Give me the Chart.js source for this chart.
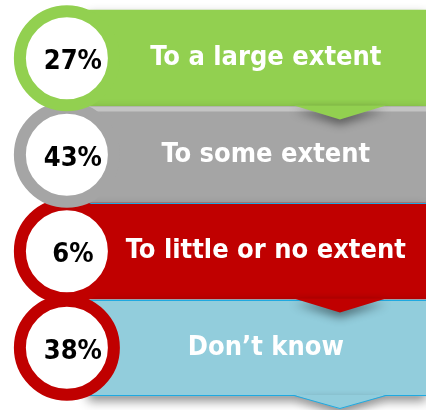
<!DOCTYPE html>
<html>
<head>
<meta charset="utf-8">
<script src="https://cdn.jsdelivr.net/npm/chart.js@4/dist/chart.umd.min.js"></script>
<style>
  body { margin: 0; background: #fff; }
</style>
</head>
<body>
<canvas id="extentChart" width="426" height="410"></canvas>
<script>
// Respuestas por categoría
const categories = ['To a large extent', 'To some extent', 'To little or no extent', 'Don’t know'];
const percentages = [27, 43, 6, 38];
const bannerColors = ['#92D050', '#A5A5A5', '#C00000', '#92CDDC'];
const ringColors = ['#92D050', '#A5A5A5', '#C00000', '#C00000'];
const showPointer = [true, false, true, true];

// Posiciones en unidades del eje x (0..100 = ancho del lienzo)
const BANNER_START = 20.7;
const CIRCLE_X = 15.7;
const LABEL_X = 62.4;
const POINTER_X = 79.8;

const TEXT_FONT = 'bold 27px "DejaVu Sans Condensed", "DejaVu Sans", sans-serif';
const OUTLINE = '#1FA9E1';

const bannerDecor = {
    id: 'bannerDecor',
    beforeDatasetDraw(chart, args) {
        if (args.index !== 0) return;
        const c = chart.ctx;
        c.save();
        c.shadowColor = 'rgba(0, 0, 0, 0.45)';
        c.shadowBlur = 10;
        c.shadowOffsetY = 5;
    },
    afterDatasetDraw(chart, args) {
        if (args.index !== 0) return;
        const c = chart.ctx;
        const xs = chart.scales.x;
        const cx = xs.getPixelForValue(POINTER_X);
        const bars = args.meta.data;
        const blue = bars[3];
        const red = bars[2];
        const bTop = Math.round(blue.y - blue.height / 2) + 0.5;
        const bBottom = Math.round(blue.y + blue.height / 2) - 0.5;
        const rTop = Math.round(red.y - red.height / 2) + 0.5;

        // franja clara arriba de la banda gris y contornos azules (sin sombra)
        const grey = bars[1];
        c.save();
        c.shadowColor = 'transparent';
        c.fillStyle = '#C4C4C4';
        c.fillRect(grey.base, grey.y - grey.height / 2, grey.x - grey.base, 5);
        c.strokeStyle = OUTLINE;
        c.lineWidth = 1;
        c.beginPath();
        c.moveTo(blue.x + 1, bTop);
        c.lineTo(blue.base + 0.5, bTop);
        c.lineTo(blue.base + 0.5, bBottom);
        c.lineTo(blue.x + 1, bBottom);
        c.moveTo(red.base, rTop);
        c.lineTo(red.x, rTop);
        c.stroke();
        c.restore();

        // puntas hacia abajo
        bars.forEach((bar, i) => {
            if (!showPointer[i]) return;
            const bottom = bar.y + bar.height / 2;
            c.beginPath();
            c.moveTo(cx - 46, bottom - 1);
            c.lineTo(cx, bottom + 13);
            c.lineTo(cx + 46, bottom - 1);
            c.closePath();
            c.fillStyle = bannerColors[i];
            c.fill();
        });

        // contorno de la punta azul
        c.shadowColor = 'transparent';
        c.strokeStyle = OUTLINE;
        c.lineWidth = 1;
        c.beginPath();
        c.moveTo(cx - 46, bBottom);
        c.lineTo(cx, bBottom + 13);
        c.lineTo(cx + 46, bBottom);
        c.stroke();
        c.restore();
    },
    afterDatasetsDraw(chart) {
        const c = chart.ctx;
        const xs = chart.scales.x;
        c.save();
        c.textAlign = 'center';
        c.textBaseline = 'middle';
        c.font = TEXT_FONT;
        // Etiquetas blancas sobre cada banda
        c.fillStyle = '#fff';
        chart.getDatasetMeta(0).data.forEach((bar, i) => {
            c.fillText(categories[i], xs.getPixelForValue(LABEL_X), bar.y);
        });
        // Porcentajes dentro de los círculos
        c.fillStyle = '#000';
        chart.getDatasetMeta(1).data.forEach((pt, j) => {
            const raw = chart.data.datasets[1].data[j];
            c.fillText(raw.pct + '%', pt.x + 6, pt.y + 4);
        });
        c.restore();
    }
};

const ctxExtent = document.getElementById('extentChart').getContext('2d');
const extentChart = new Chart(ctxExtent, {
    type: 'bar',
    data: {
        labels: categories,
        datasets: [{
            label: 'Banda',
            data: categories.map(() => [BANNER_START, 100]),
            backgroundColor: bannerColors,
            borderWidth: 0,
            categoryPercentage: 1,
            barPercentage: 1,
            clip: false,
            order: 2
        }, {
            type: 'scatter',
            label: 'Porcentaje',
            // invertido para que el círculo superior quede encima
            data: categories.map((c, i) => ({ x: CIRCLE_X, y: c, pct: percentages[i], row: i })).reverse(),
            pointRadius: 47,
            pointHoverRadius: 47,
            pointBorderWidth: 12,
            pointHoverBorderWidth: 12,
            pointBackgroundColor: '#fff',
            pointBorderColor: (ctx) => ringColors[ctx.raw ? ctx.raw.row : 0],
            clip: false,
            order: 1
        }]
    },
    options: {
        indexAxis: 'y',
        responsive: false,
        animation: false,
        events: [],
        layout: { autoPadding: false, padding: { top: 10, bottom: 14, left: 0, right: 0 } },
        scales: {
            x: { type: 'linear', min: 0, max: 100, display: false },
            y: { type: 'category', display: false, offset: true }
        },
        plugins: {
            legend: { display: false },
            tooltip: { enabled: false }
        }
    },
    plugins: [bannerDecor]
});
</script>
</body>
</html>
